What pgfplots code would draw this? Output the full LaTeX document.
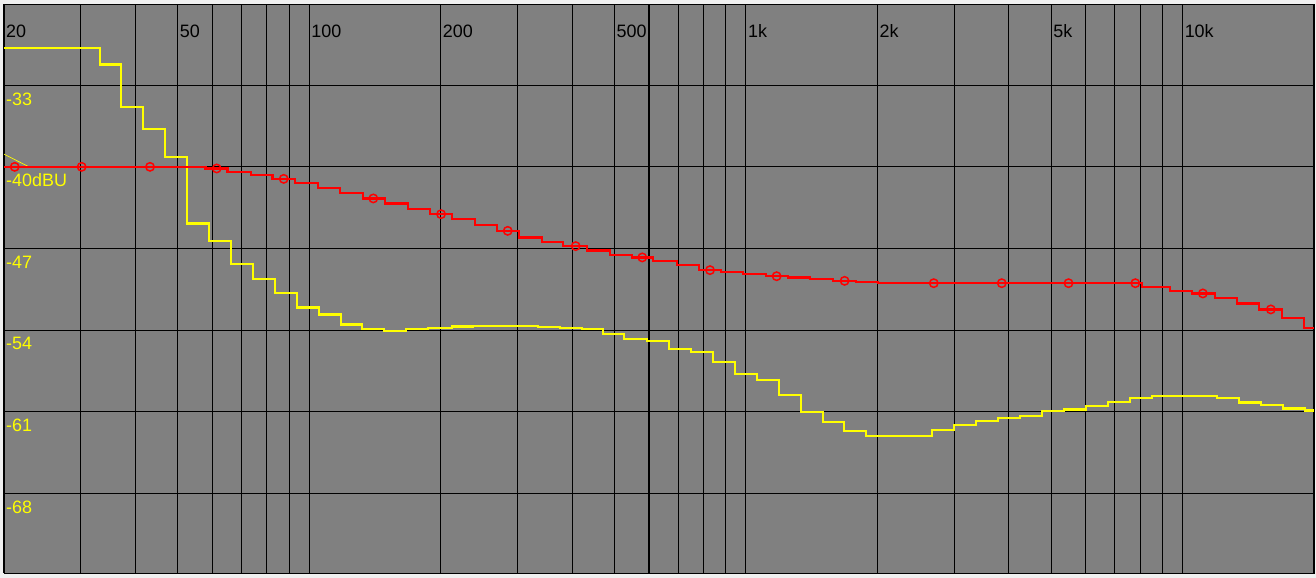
\documentclass[border=0pt]{standalone}
\usepackage{pgfplots}
\pgfplotsset{compat=1.18}
\usepackage{fontspec}
\setmainfont{Liberation Sans}
\definecolor{plotbg}{HTML}{808080}
\definecolor{outbg}{HTML}{F0F0F0}
\definecolor{yel}{HTML}{FFFF00}
\definecolor{rd}{HTML}{FF0000}
\newcommand{\lblfont}{\fontsize{18}{18}\selectfont}
\begin{document}
\begin{tikzpicture}
\path[use as bounding box, fill=outbg] (-4bp,-5bp) rectangle (1312bp,573bp);
\begin{axis}[
  at={(0,0)}, anchor=south west,
  scale only axis, width=1310bp, height=569bp,
  xmode=log, xmin=20, xmax=20000, ymin=-74.84, ymax=-26.03,
  axis background/.style={fill=plotbg},
  xtick={20,30,40,50,60,70,80,90,100,200,300,400,500,600,700,800,900,1000,2000,3000,4000,5000,6000,7000,8000,9000,10000,20000},
  ytick={-68,-61,-54,-47,-40,-33},
  minor xtick={}, minor ytick={},
  xticklabels={}, yticklabels={},
  major tick length=0pt,
  grid=major, grid style={black, line width=1.1bp},
  axis line style={black, line width=0.8bp},
]
% yellow response
\addplot[const plot, yel, line width=2.2bp] coordinates {
(20,-29.79) (33.18,-31.22) (37.01,-34.85) (41.69,-36.74) (46.73,-39.14) (52.42,-44.86) (59.04,-46.33) (66.20,-48.35) (74.46,-49.61) (83.47,-50.82) (93.91,-52.06) (105.1,-52.66) (118.1,-53.52) (132.3,-53.90) (148.3,-54.10) (166.6,-53.92) (187.4,-53.81) (212.0,-53.69) (237.6,-53.64) (266.3,-53.62) (299.1,-53.64) (334.6,-53.73) (375.1,-53.81) (422.0,-53.88) (469.9,-54.33) (526.7,-54.76) (592.7,-54.93) (666.6,-55.64) (748.6,-55.87) (839.5,-56.75) (944.2,-57.78) (1058.5,-58.30) (1190.9,-59.59) (1335.4,-61.02) (1499.5,-61.88) (1680.4,-62.65) (1883.8,-63.08) (2672.6,-62.59) (2996,-62.16) (3365,-61.79) (3785,-61.53) (4243,-61.36) (4773,-60.96) (5352,-60.81) (6009,-60.50) (6738,-60.19) (7578,-59.84) (8523,-59.64) (12009,-59.82) (13465,-60.21) (15099,-60.44) (16959,-60.73) (19074,-60.90) (20000,-60.90)
};
% small yellow marker at left edge
\addplot[yel, line width=0.7bp] coordinates {(20,-38.91) (22.82,-40.0)};
% red response
\addplot[const plot, rd, line width=2.2bp] coordinates {
(20,-40.0) (57.87,-40.14) (65.01,-40.43) (73.45,-40.69) (82.38,-41.03) (92.78,-41.37) (104.6,-41.80) (117.6,-42.23) (132.6,-42.71) (149.1,-43.14) (168.6,-43.63) (189.0,-44.06) (212.0,-44.49) (239.7,-45.00) (268.7,-45.49) (302.7,-46.06) (340.7,-46.43) (381.8,-46.80) (431.9,-47.17) (488.5,-47.57) (547.6,-47.77) (613.7,-48.09) (694.1,-48.43) (780.6,-48.86) (875.7,-49.03) (986.3,-49.20) (1110,-49.38) (1250.8,-49.49) (1402.3,-49.63) (1585.5,-49.78) (1787.1,-49.89) (2003.5,-49.98) (8060,-50.29) (9359,-50.64) (10492,-50.86) (11864,-51.24) (13303,-51.72) (14988,-52.23) (16870,-52.95) (18973,-53.81) (20000,-53.81)
};
\addplot[only marks, mark=o, mark size=4.2bp, rd, line width=1.5bp] coordinates {
(21.16,-40.0) (30.12,-40.0) (43.19,-40.0) (61.40,-40.14) (87.41,-41.03) (140.2,-42.71) (200.4,-44.06) (284.8,-45.49) (407.6,-46.80) (579.1,-47.77) (827.6,-48.86) (1176,-49.38) (1683,-49.78) (2693,-49.98) (3855,-49.98) (5481,-49.98) (7796,-49.98) (11129,-50.86) (15929,-52.23)
};
% frequency labels
\foreach \f/\t in {20/20,50/50,100/100,200/200,500/500,1000/1k,2000/2k,5000/5k,10000/10k}{
  \edef\temp{\noexpand\node[anchor=base west, inner sep=0pt, text=black, font=\noexpand\lblfont, xshift=2bp] at (axis cs:\f,-28.9) {\t};}
  \temp
}
% level labels
\node[anchor=base west, inner sep=0pt, text=yel, font=\lblfont, xshift=2bp] at (axis cs:20,-34.70) {-33};
\node[anchor=base west, inner sep=0pt, text=yel, font=\lblfont, xshift=2bp] at (axis cs:20,-41.70) {-40dBU};
\node[anchor=base west, inner sep=0pt, text=yel, font=\lblfont, xshift=2bp] at (axis cs:20,-48.70) {-47};
\node[anchor=base west, inner sep=0pt, text=yel, font=\lblfont, xshift=2bp] at (axis cs:20,-55.70) {-54};
\node[anchor=base west, inner sep=0pt, text=yel, font=\lblfont, xshift=2bp] at (axis cs:20,-62.70) {-61};
\node[anchor=base west, inner sep=0pt, text=yel, font=\lblfont, xshift=2bp] at (axis cs:20,-69.70) {-68};
\end{axis}
\end{tikzpicture}
\end{document}
